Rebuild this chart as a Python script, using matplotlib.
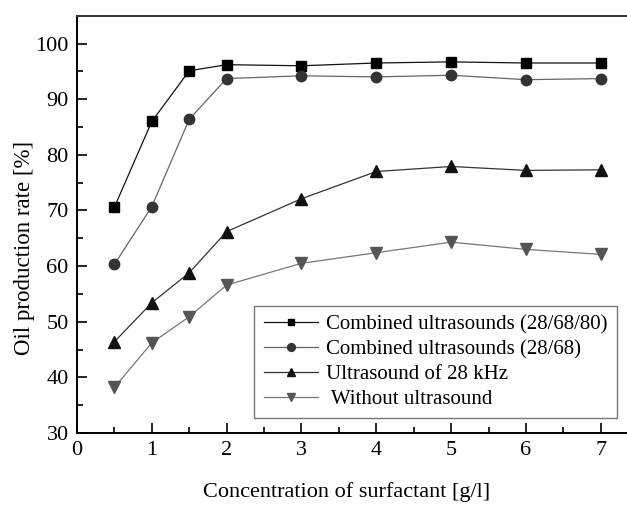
import numpy as np
import matplotlib.pyplot as plt
from matplotlib.ticker import MultipleLocator

plt.rcParams['font.family'] = ['Liberation Serif', 'DejaVu Serif']

conc = [0.5, 1, 1.5, 2, 3, 4, 5, 6, 7]
combined3 = [70.6, 86.0, 95.1, 96.2, 96.0, 96.5, 96.7, 96.5, 96.5]
combined2 = [60.3, 70.7, 86.4, 93.7, 94.2, 94.0, 94.3, 93.5, 93.7]
us28 = [46.4, 53.4, 58.8, 66.2, 72.1, 77.0, 77.9, 77.2, 77.3]
no_us = [38.2, 46.2, 50.9, 56.6, 60.5, 62.4, 64.3, 63.0, 62.1]

labels = ["Combined ultrasounds (28/68/80)",
          "Combined ultrasounds (28/68)",
          "Ultrasound of 28 kHz",
          " Without ultrasound"]

fig = plt.figure(figsize=(6.27, 5.05), dpi=100)
ax = fig.add_axes([0.1228, 0.1426, 0.8772, 0.8263])

ax.plot(conc, combined3, color='#111111', lw=0.9, marker='s', ms=6.5,
        mfc='black', mec='black', label=labels[0])
ax.plot(conc, combined2, color='#666666', lw=0.9, marker='o', ms=7.5,
        mfc='#333333', mec='#333333', label=labels[1])
ax.plot(conc, us28, color='#333333', lw=0.9, marker='^', ms=8.5,
        mfc='#111111', mec='#111111', label=labels[2])
ax.plot(conc, no_us, color='#777777', lw=0.9, marker='v', ms=8.5,
        mfc='#555555', mec='#555555', label=labels[3])

ax.set_xlim(0, 7.35)
ax.set_ylim(30, 105)
ax.xaxis.set_major_locator(MultipleLocator(1))
ax.xaxis.set_minor_locator(MultipleLocator(0.5))
ax.yaxis.set_major_locator(MultipleLocator(10))
ax.yaxis.set_minor_locator(MultipleLocator(5))
ax.tick_params(which='both', direction='in', top=False, right=False,
               labelsize=16, width=1.2)
ax.tick_params(which='major', length=7, pad=6)
ax.tick_params(which='minor', length=4)

ax.spines['right'].set_visible(False)
ax.spines['left'].set_linewidth(1.4)
ax.spines['bottom'].set_linewidth(1.4)
ax.spines['top'].set_linewidth(1.4)
ax.spines['top'].set_color('#333333')

ax.set_xlabel("Concentration of surfactant [g/l]", fontsize=16)
ax.set_ylabel("Oil production rate [%]", fontsize=16.5)
ax.xaxis.set_label_coords(0.49, -0.118)
ax.yaxis.set_label_coords(-0.076, 0.443)

leg = ax.legend(loc='lower right', bbox_to_anchor=(0.982, 0.035),
                fontsize=15, handlelength=2.6, markerscale=0.75,
                fancybox=False, frameon=True, borderpad=0.45,
                labelspacing=0.25, handletextpad=0.4, borderaxespad=0)
leg.get_frame().set_edgecolor('#555555')
leg.get_frame().set_linewidth(1.0)

fig.savefig("out.png", dpi=100)
